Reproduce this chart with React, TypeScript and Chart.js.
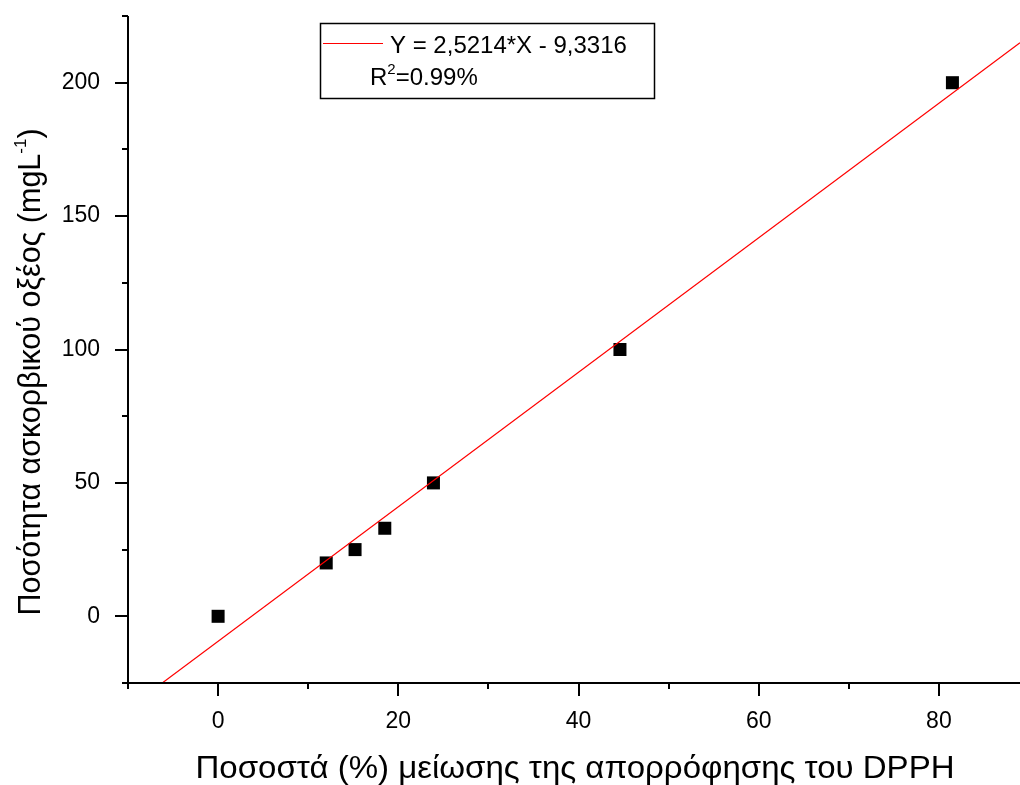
import React, { useEffect, useRef } from "react";
import { Chart, registerables } from "chart.js";

Chart.register(...registerables);

const pointsX = [0, 12.0, 15.2, 18.5, 23.9, 44.6, 81.5];
const pointsY = [0, 20, 25, 33, 50, 100, 200];

const fitX = [-6.2, 89];
const fitY = [-25, 215];

const xMajorTicks = [0, 20, 40, 60, 80];
const xMinorTicks = [-10, 10, 30, 50, 70];
const yMajorTicks = [0, 50, 100, 150, 200];
const yMinorTicks = [-25, 25, 75, 125, 175, 225];

const xTitle = "Ποσοστά (%) μείωσης της απορρόφησης του DPPH";
const yTitleMain = "Ποσότητα ασκορβικού οξέος (mgL";
const yTitleSup = "-1";
const yTitleEnd = ")";
const legendEquation = "Y = 2,5214*X - 9,3316";
const legendR2Base = "R";
const legendR2Sup = "2";
const legendR2Rest = "=0.99%";

const FONT = "'Liberation Sans', Arial, sans-serif";

const overlayPlugin = {
  id: "overlay",
  afterDraw(chart: any) {
    const ctx = chart.ctx;
    const xs = chart.scales.x;
    const ys = chart.scales.y;
    const area = chart.chartArea;
    ctx.save();
    ctx.strokeStyle = "#000";
    ctx.fillStyle = "#000";
    // axes
    ctx.lineWidth = 2;
    ctx.beginPath();
    ctx.moveTo(area.left, area.top);
    ctx.lineTo(area.left, area.bottom);
    ctx.lineTo(area.right, area.bottom);
    ctx.stroke();
    // ticks
    ctx.lineWidth = 2;
    ctx.beginPath();
    xMajorTicks.forEach((v) => {
      const px = Math.round(xs.getPixelForValue(v));
      ctx.moveTo(px, area.bottom);
      ctx.lineTo(px, area.bottom + 13);
    });
    xMinorTicks.forEach((v) => {
      const px = Math.round(xs.getPixelForValue(v));
      ctx.moveTo(px, area.bottom);
      ctx.lineTo(px, area.bottom + 6);
    });
    yMajorTicks.forEach((v) => {
      const py = Math.round(ys.getPixelForValue(v));
      ctx.moveTo(area.left, py);
      ctx.lineTo(area.left - 13, py);
    });
    yMinorTicks.forEach((v) => {
      const py = Math.round(ys.getPixelForValue(v));
      ctx.moveTo(area.left, py);
      ctx.lineTo(area.left - 6, py);
    });
    ctx.stroke();

    // x title
    ctx.save();
    ctx.font = `31px ${FONT}`;
    ctx.textAlign = "center";
    ctx.textBaseline = "alphabetic";
    ctx.translate(575, 778);
    ctx.scale(1.065, 1);
    ctx.fillText(xTitle, 0, 0);
    ctx.restore();

    // y title (rotated)
    ctx.save();
    ctx.translate(40, 372);
    ctx.rotate(-Math.PI / 2);
    const mainFont = `30.5px ${FONT}`;
    const supFont = `17px ${FONT}`;
    ctx.font = mainFont;
    const w1 = ctx.measureText(yTitleMain).width;
    const w3 = ctx.measureText(yTitleEnd).width;
    ctx.font = supFont;
    const w2 = ctx.measureText(yTitleSup).width;
    const total = w1 + w2 + w3;
    let cx = -total / 2;
    ctx.textAlign = "left";
    ctx.font = mainFont;
    ctx.fillText(yTitleMain, cx, 0);
    cx += w1;
    ctx.font = supFont;
    ctx.fillText(yTitleSup, cx, -14);
    cx += w2;
    ctx.font = mainFont;
    ctx.fillText(yTitleEnd, cx, 0);
    ctx.restore();

    // legend box
    ctx.lineWidth = 1.5;
    ctx.strokeStyle = "#000";
    ctx.strokeRect(320.5, 23.5, 334, 75);
    ctx.strokeStyle = "#ff0000";
    ctx.lineWidth = 1;
    ctx.beginPath();
    ctx.moveTo(323, 43.5);
    ctx.lineTo(383, 43.5);
    ctx.stroke();
    ctx.fillStyle = "#000";
    ctx.textAlign = "left";
    ctx.font = `24px ${FONT}`;
    ctx.fillText(legendEquation, 390, 53);
    ctx.fillText(legendR2Base, 370, 85);
    const rw = ctx.measureText(legendR2Base).width;
    ctx.font = `15px ${FONT}`;
    ctx.fillText(legendR2Sup, 370 + rw, 74);
    const sw = ctx.measureText(legendR2Sup).width;
    ctx.font = `24px ${FONT}`;
    ctx.fillText(legendR2Rest, 370 + rw + sw, 85);
    ctx.restore();
  },
};

export default function App() {
  const canvasRef = useRef<HTMLCanvasElement | null>(null);

  useEffect(() => {
    if (!canvasRef.current) return;
    const chart = new Chart(canvasRef.current, {
      type: "scatter",
      data: {
        datasets: [
          {
            label: "fit",
            data: fitX.map((x, i) => ({ x, y: fitY[i] })),
            showLine: true,
            borderColor: "#ff0000",
            borderWidth: 1.2,
            pointRadius: 0,
            fill: false,
          },
          {
            label: "data",
            data: pointsX.map((x, i) => ({ x, y: pointsY[i] })),
            pointStyle: "rect",
            pointRadius: 9.2,
            backgroundColor: "#000",
            borderWidth: 0,
            clip: false as any,
          },
        ],
      },
      options: {
        animation: false,
        responsive: false,
        maintainAspectRatio: false,
        layout: { autoPadding: false, padding: { top: 16, right: 0, left: 0, bottom: 0 } },
        plugins: {
          legend: { display: false },
          tooltip: { enabled: false },
        },
        scales: {
          x: {
            type: "linear",
            min: -10,
            max: 89,
            grid: { display: false },
            border: { display: false },
            afterBuildTicks: (s: any) => {
              s.ticks = xMajorTicks.map((v) => ({ value: v }));
            },
            afterFit: (s: any) => {
              s.height = 102;
              s.paddingLeft = 0;
              s.paddingRight = 0;
              s.paddingTop = 0;
              s.paddingBottom = 0;
            },
            ticks: {
              color: "#000",
              font: { family: FONT, size: 23 },
              padding: 17,
              maxRotation: 0,
              autoSkip: false,
            },
          },
          y: {
            type: "linear",
            min: -25,
            max: 225,
            grid: { display: false },
            border: { display: false },
            afterBuildTicks: (s: any) => {
              s.ticks = yMajorTicks.map((v) => ({ value: v }));
            },
            afterFit: (s: any) => {
              s.width = 128;
              s.paddingLeft = 0;
              s.paddingRight = 0;
              s.paddingTop = 0;
              s.paddingBottom = 0;
            },
            ticks: {
              color: "#000",
              font: { family: FONT, size: 23 },
              padding: 20,
              autoSkip: false,
            },
          },
        },
      },
      plugins: [overlayPlugin],
    });
    return () => chart.destroy();
  }, []);

  return (
    <div style={{ position: "fixed", left: 0, top: 0, width: 1020, height: 785, background: "#fff" }}>
      <canvas ref={canvasRef} width={1020} height={785} style={{ width: 1020, height: 785, display: "block" }} />
    </div>
  );
}
